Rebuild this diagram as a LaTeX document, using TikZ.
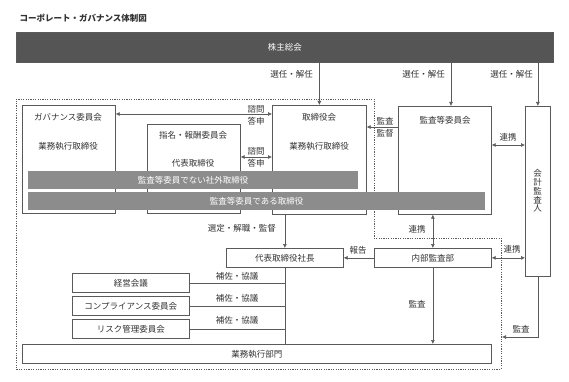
\documentclass[tikz,border=0pt]{standalone}
\usepackage{fontspec}
\setmainfont{Noto Sans CJK JP}
\usetikzlibrary{arrows.meta,positioning,calc}
\definecolor{shdark}{HTML}{555555}
\definecolor{bargray}{HTML}{8C8C8C}
\definecolor{linegray}{HTML}{5A5A5A}
\definecolor{txtgray}{HTML}{333333}

\begin{document}
\begin{tikzpicture}[x=1pt,y=-1pt,
  box/.style={draw=linegray,line width=0.7pt,inner sep=0pt,anchor=north west,text=txtgray},
  bar/.style={fill=bargray,inner sep=0pt,anchor=north west,text=white},
  lbl/.style={text=txtgray,inner sep=1pt},
  conn/.style={draw=linegray,line width=0.6pt},
  arr/.style={conn,-{Latex[length=4pt,width=4pt]}},
  biarr/.style={conn,{Latex[length=4pt,width=4pt]}-{Latex[length=4pt,width=4pt]}},
  font=\fontsize{8.5}{10}\selectfont]
\useasboundingbox[fill=white] (0,0) rectangle (569,382);
\node[anchor=west,text=txtgray,font=\fontsize{8.5}{10}\selectfont\bfseries] (title) at (16,18) {コーポレート・ガバナンス体制図};
% outer dotted frame
\draw[linegray,line width=0.8pt,dash pattern=on 1.2pt off 1.2pt] (16,99) -- (374,99) -- (374,238) -- (501,238) -- (501,369) -- (16,369) -- cycle;
% boxes
\node[box,fill=shdark,text=white,minimum width=537,minimum height=30] (gm) at (16,32) {株主総会};
\node[box,minimum width=93,minimum height=108] (gov) at (22,105) {};
\node[lbl] (govname) at (68,117) {ガバナンス委員会};
\node[lbl] (govexec) at (68,146) {業務執行取締役};
\node[box,minimum width=93,minimum height=89] (nom) at (147,124) {};
\node[lbl] (nomname) at (193,135) {指名・報酬委員会};
\node[lbl] (nomrep) at (193,163) {代表取締役};
\node[box,minimum width=94,minimum height=109] (board) at (272,105) {};
\node[lbl] (boardname) at (319,117) {取締役会};
\node[lbl] (boardexec) at (319,146) {業務執行取締役};
\node[box,minimum width=93,minimum height=108] (aud) at (398,106) {};
\node[lbl] (audname) at (445,120) {監査等委員会};
\node[box,minimum width=25,minimum height=170] (acc) at (525,106) {};
\node[lbl,align=center,font=\fontsize{8.5}{8.8}\selectfont] (accname) at (537.5,191) {会\\計\\監\\査\\人};
\node[bar,minimum width=330,minimum height=18] (outside) at (28,171) {監査等委員でない社外取締役};
\node[bar,minimum width=457,minimum height=18] (auddir) at (28,192) {監査等委員である取締役};
\node[box,minimum width=117,minimum height=19] (pres) at (226,248) {代表取締役社長};
\node[box,minimum width=117,minimum height=19] (ia) at (374,248) {内部監査部};
\node[box,minimum width=117,minimum height=19] (mgmt) at (72,273) {経営会議};
\node[box,minimum width=117,minimum height=19] (comp) at (72,296) {コンプライアンス委員会};
\node[box,minimum width=117,minimum height=19] (risk) at (72,319) {リスク管理委員会};
\node[box,minimum width=469,minimum height=19] (ops) at (22,344) {業務執行部門};
% election
\draw[arr] (board.north |- gm.south) -- (board.north);
\draw[arr] (gm.south -| 451,0) -- (aud.north -| 451,0);
\draw[arr] (acc.north |- gm.south) -- (acc.north);
\node[lbl,anchor=east] (sel1) at (314,74) {選任・解任};
\node[lbl,anchor=east] (sel2) at (446,74) {選任・解任};
\node[lbl,anchor=east] (sel3) at (534,74) {選任・解任};
% committees and board
\draw[biarr] (gov.east |- 0,114) -- (board.west |- 0,114);
\node[lbl] (ask1) at (256,109) {諮問};
\node[lbl] (ans1) at (256,121) {答申};
\draw[biarr] (nom.east |- 0,157) -- (board.west |- 0,157);
\node[lbl] (ask2) at (256,151) {諮問};
\node[lbl] (ans2) at (256,163) {答申};
\draw[arr] (aud.west |- 0,127) -- (board.east |- 0,127);
\node[lbl] (audit1) at (385,121) {監査};
\node[lbl] (superv) at (385,133) {監督};
\draw[biarr] (aud.east |- 0,145) -- (acc.west |- 0,145);
\node[lbl] (coop1) at (508,137) {連携};
% executive side
\draw[arr] (board.south -| pres.north) -- (pres.north);
\node[lbl,anchor=east] (appoint) at (277,228) {選定・解職・監督};
\draw[biarr] (aud.south -| ia.north) -- (ia.north);
\node[lbl] (coop2) at (417,229) {連携};
\draw[arr] (ia.west) -- (pres.east);
\node[lbl] (report) at (358,250) {報告};
\draw[biarr] (ia.east) -- (ia.east -| acc.west);
\node[lbl] (coop3) at (512,249) {連携};
\coordinate (accend) at (502,337);
\draw[arr] (acc.south) |- (accend);
\node[lbl] (audit2) at (521,329) {監査};
\draw[arr] (ia.south) -- (ia.south |- ops.north);
\node[lbl] (audit3) at (417,304) {監査};
\draw[conn] (pres.south) -- (pres.south |- ops.north);
\draw[conn] (mgmt.east) -- (mgmt.east -| pres.south);
\draw[conn] (comp.east) -- (comp.east -| pres.south);
\draw[conn] (risk.east) -- (risk.east -| pres.south);
\node[lbl] (assist1) at (237,276) {補佐・協議};
\node[lbl] (assist2) at (237,298) {補佐・協議};
\node[lbl] (assist3) at (237,320) {補佐・協議};
\end{tikzpicture}
\end{document}
